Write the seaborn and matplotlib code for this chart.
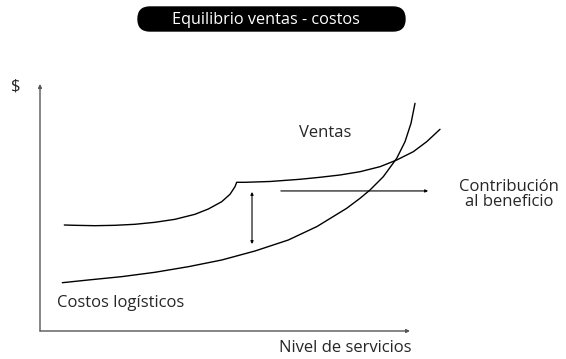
import numpy as np
import pandas as pd
import seaborn as sns
import matplotlib.pyplot as plt
from matplotlib.patches import FancyBboxPatch

# values (service level on x, $ on y, 0-100 scale)
costos_x = [6.03, 13.05, 22.08, 31.08, 40.08, 49.11, 58.11, 67.11, 74.86, 82.89,
            86.49, 89.19, 92.78, 96.41, 98.65, 100.27, 101.35]
costos_y = [19.55, 20.65, 22.0, 23.77, 26.03, 28.74, 32.39, 36.84, 42.3, 49.68,
            53.72, 57.09, 62.47, 69.92, 76.64, 84.09, 92.19]

ventas_x = [6.57, 9.46, 14.86, 20.27, 25.68, 31.08, 36.49, 41.89, 45.49, 49.11, 51.35,
            52.70, 53.16, 55.41, 62.16, 70.27, 75.68, 81.08, 86.49, 91.89, 96.41,
            100.89, 104.51, 108.11]
ventas_y = [42.91, 42.79, 42.63, 42.79, 43.20, 44.01, 45.22, 47.25, 49.39, 52.35, 55.34,
            58.42, 60.20, 60.20, 60.53, 61.42, 62.23, 63.16, 64.49, 66.52, 69.23,
            72.59, 76.64, 81.66]

title = "Equilibrio ventas - costos"
x_label = "Nivel de servicios"
y_label = "$"
gap_x = 57.3
gap_y = [35.2, 56.3]
contrib_x = [65.1, 104.9]
contrib_y = 56.7

sns.set_style("white")
plt.rcParams['font.family'] = ['Open Sans', 'DejaVu Sans']

df = pd.concat([
    pd.DataFrame({"x": costos_x, "y": costos_y, "serie": "Costos"}),
    pd.DataFrame({"x": ventas_x, "y": ventas_y, "serie": "Ventas"}),
])

fig = plt.figure(figsize=(5.66, 3.59), dpi=100)
ax = fig.add_axes([0, 0, 1, 1])
sns.lineplot(data=df, x="x", y="y", units="serie", estimator=None, sort=False,
             color="black", linewidth=1.0, ax=ax, solid_joinstyle="round")
ax.set_xlim(-10.81, 142.16)
ax.set_ylim(-11.34, 134.01)
ax.axis("off")

# axes drawn as arrows
arr = dict(arrowstyle="-|>", color="#555555", lw=1.0, mutation_scale=5, shrinkA=0, shrinkB=0)
ax.annotate("", xy=(100, 0), xytext=(0, 0), arrowprops=arr)
ax.annotate("", xy=(0, 100), xytext=(0, 0), arrowprops=arr)

# gap (double arrow) and contribution arrow
ax.annotate("", xy=(gap_x, gap_y[1]), xytext=(gap_x, gap_y[0]),
            arrowprops=dict(arrowstyle="<|-|>", color="black", lw=0.8, mutation_scale=4,
                            shrinkA=0, shrinkB=0))
ax.annotate("", xy=(contrib_x[1], contrib_y), xytext=(contrib_x[0], contrib_y),
            arrowprops=dict(arrowstyle="-|>", color="black", lw=0.8, mutation_scale=4,
                            shrinkA=0, shrinkB=0))

ax.text(77.0, 80.2, "Ventas", fontsize=12, ha="center", va="center")
ax.text(126.8, 55.3, "Contribución\nal beneficio", fontsize=12, ha="center", va="center",
        linespacing=0.9)
ax.text(4.6, 11.3, "Costos logísticos", fontsize=12, ha="left", va="center")
ax.text(100.3, -6.9, x_label, fontsize=12, ha="right", va="center")
ax.text(-6.5, 98.8, y_label, fontsize=12, ha="center", va="center")

# title in a black rounded box
box = FancyBboxPatch((138 / 566, 1 - 31 / 359), 267 / 566, 24 / 359,
                     boxstyle="round,pad=0,rounding_size=0.021",
                     mutation_aspect=566 / 359, transform=fig.transFigure,
                     facecolor="black", edgecolor="black")
fig.patches.append(box)
fig.text(266 / 566, 1 - 20 / 359, title, color="white", fontsize=11.7,
         ha="center", va="center")

fig.savefig("out.png", dpi=100)
